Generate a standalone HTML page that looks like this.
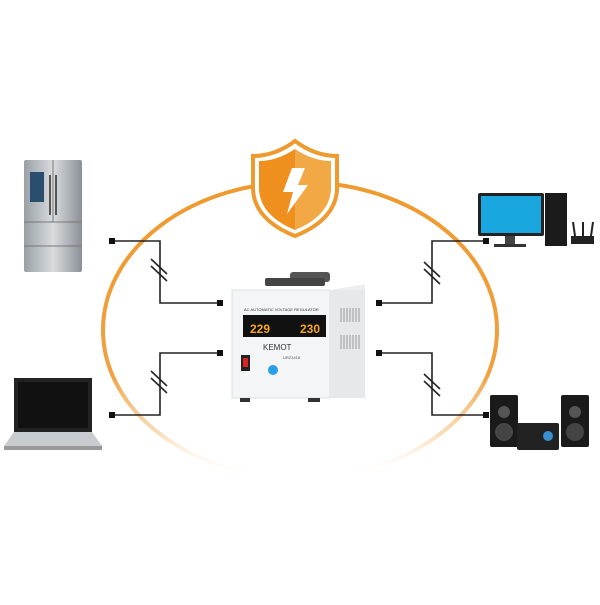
<!DOCTYPE html>
<html><head><style>
html,body{margin:0;padding:0;background:#fff;}
</style></head><body>
<svg width="600" height="600" viewBox="0 0 600 600" xmlns="http://www.w3.org/2000/svg" font-family="Liberation Sans, sans-serif">
<defs>
<linearGradient id="ell" x1="0" y1="0" x2="0" y2="1">
<stop offset="0" stop-color="#ef9a2e"/>
<stop offset="0.65" stop-color="#f0a040"/>
<stop offset="0.85" stop-color="#f5c88a" stop-opacity="0.6"/>
<stop offset="1" stop-color="#fff" stop-opacity="0"/>
</linearGradient>
<linearGradient id="steel" x1="0" x2="1">
<stop offset="0" stop-color="#9aa0a6"/><stop offset="0.5" stop-color="#d8dcdf"/><stop offset="1" stop-color="#8a9096"/>
</linearGradient>
</defs>
<ellipse cx="300" cy="330" rx="197" ry="148" fill="none" stroke="url(#ell)" stroke-width="4"/>
<path d="M295 141 Q315 156 337 156 L337 190 Q335 220 295 236 Q255 220 253 190 L253 156 Q275 156 295 141Z" fill="#fff" stroke="#ef9a2e" stroke-width="4"/>
<path d="M295 149 Q313 161 331 161 L331 190 Q329 216 295 230 Z" fill="#f2a844"/>
<path d="M295 149 Q277 161 259 161 L259 190 Q261 216 295 230 Z" fill="#ee8f1e"/>
<path d="M292 168 L305 168 L298 185 L308 185 L287 214 L293 192 L283 192 Z" fill="#fff"/>
<g stroke="#222" stroke-width="1.6" fill="none">
<path d="M112 241 H160 V303 H220"/>
<path d="M220 353 H160 V415 H112"/>
<path d="M486 241 H432 V303 H380"/>
<path d="M380 353 H432 V415 H486"/>
<path d="M151 259 L167 274 M151 266 L167 281"/>
<path d="M151 371 L167 386 M151 378 L167 393"/>
<path d="M424 262 L440 277 M424 269 L440 284"/>
<path d="M424 374 L440 389 M424 381 L440 396"/>
</g>
<g fill="#111">
<rect x="109" y="238" width="6" height="6"/><rect x="217" y="300" width="6" height="6"/>
<rect x="217" y="350" width="6" height="6"/><rect x="109" y="412" width="6" height="6"/>
<rect x="376" y="300" width="6" height="6"/><rect x="483" y="238" width="6" height="6"/>
<rect x="376" y="350" width="6" height="6"/><rect x="483" y="412" width="6" height="6"/>
</g>
<rect x="290" y="272" width="40" height="10" rx="3" fill="#555"/>
<rect x="265" y="278" width="60" height="8" rx="2" fill="#444"/>
<path d="M232 290 L330 290 L365 284 L365 390 L330 398 L232 398 Z" fill="#eceeef"/>
<rect x="232" y="290" width="98" height="108" fill="#f4f5f6" stroke="#ddd"/>
<rect x="330" y="290" width="35" height="108" fill="#e6e8ea"/>
<g stroke="#999" stroke-width="1">
<path d="M341 308 v14 M344 308 v14 M347 308 v14 M350 308 v14 M353 308 v14 M356 308 v14 M359 308 v14"/>
<path d="M341 335 v14 M344 335 v14 M347 335 v14 M350 335 v14 M353 335 v14 M356 335 v14 M359 335 v14"/>
</g>
<text x="244" y="311" font-size="4" fill="#333">AC AUTOMATIC VOLTAGE REGULATOR</text>
<rect x="243" y="315" width="83" height="22" fill="#111"/>
<text x="250" y="333" font-size="12" font-weight="bold" fill="#f5a623">229</text>
<text x="300" y="333" font-size="12" font-weight="bold" fill="#f5a623">230</text>
<text x="263" y="350" font-size="8" fill="#333">KEMOT</text>
<text x="283" y="359" font-size="4" fill="#555">URZ3416</text>
<rect x="241" y="355" width="9" height="16" fill="#222"/>
<rect x="243" y="358" width="5" height="9" fill="#d22"/>
<circle cx="273" cy="370" r="5" fill="#2a9ee8"/>
<rect x="240" y="398" width="10" height="4" fill="#333"/><rect x="308" y="398" width="12" height="4" fill="#333"/>
<rect x="24" y="160" width="58" height="112" rx="2" fill="url(#steel)"/>
<line x1="53" y1="160" x2="53" y2="222" stroke="#777"/>
<line x1="24" y1="222" x2="82" y2="222" stroke="#777"/>
<line x1="24" y1="246" x2="82" y2="246" stroke="#777"/>
<rect x="30" y="172" width="14" height="30" fill="#2a4d6e"/>
<rect x="49" y="175" width="2" height="40" fill="#555"/><rect x="55" y="175" width="2" height="40" fill="#555"/>
<path d="M14 378 L92 378 L92 432 L14 432 Z" fill="#222"/>
<rect x="18" y="382" width="70" height="46" fill="#111"/>
<path d="M14 432 L92 432 L102 446 L4 446 Z" fill="#c8ccd0"/>
<rect x="4" y="446" width="98" height="4" fill="#999"/>
<rect x="478" y="193" width="66" height="43" rx="2" fill="#222"/>
<rect x="481" y="196" width="60" height="37" fill="#1aa7e0"/>
<rect x="505" y="236" width="10" height="8" fill="#444"/><rect x="494" y="244" width="32" height="3" fill="#333"/>
<rect x="545" y="193" width="22" height="53" fill="#1b1b1b"/>
<rect x="571" y="236" width="23" height="8" fill="#222"/>
<line x1="575" y1="236" x2="573" y2="222" stroke="#222" stroke-width="2"/>
<line x1="583" y1="236" x2="583" y2="222" stroke="#222" stroke-width="2"/>
<line x1="591" y1="236" x2="593" y2="222" stroke="#222" stroke-width="2"/>
<rect x="490" y="395" width="28" height="52" rx="2" fill="#1a1a1a"/>
<circle cx="504" cy="412" r="6" fill="#555"/><circle cx="504" cy="432" r="9" fill="#444"/>
<rect x="561" y="395" width="28" height="52" rx="2" fill="#1a1a1a"/>
<circle cx="575" cy="412" r="6" fill="#555"/><circle cx="575" cy="432" r="9" fill="#444"/>
<rect x="517" y="423" width="42" height="27" rx="2" fill="#222"/>
<circle cx="548" cy="436" r="5" fill="#3a8fd0"/>
</svg>
</body></html>
